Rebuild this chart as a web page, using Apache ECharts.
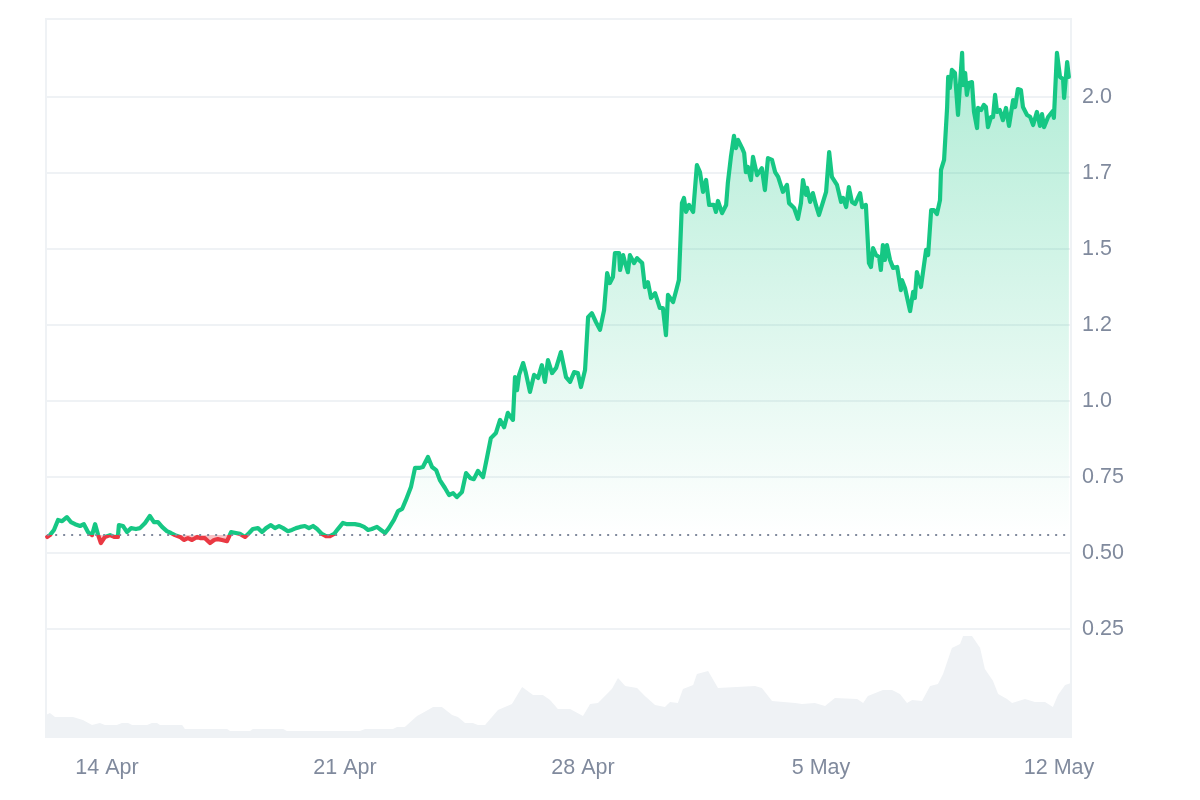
<!DOCTYPE html>
<html><head><meta charset="utf-8">
<style>html,body{margin:0;padding:0;background:#fff}#c{width:1200px;height:800px}</style>
<script src="https://cdn.jsdelivr.net/npm/echarts@6/dist/echarts.min.js"></script>
</head><body><div id="c"></div>
<script>
// Days counted from 14 Apr
const priceDays = [-1.76,-1.68,-1.56,-1.44,-1.32,-1.18,-1.06,-.94,-.79,-.68,-.56,-.44,-.35,-.26,-.18,-.06,.09,.21,.32,.35,.47,.59,.71,.85,.97,1.12,1.26,1.38,1.5,1.62,1.76,1.88,2.0,2.15,2.26,2.38,2.5,2.65,2.76,2.88,3.03,3.15,3.26,3.38,3.53,3.65,3.79,3.91,4.06,4.18,4.29,4.44,4.56,4.68,4.82,4.94,5.06,5.18,5.32,5.44,5.56,5.68,5.82,5.94,6.06,6.18,6.32,6.44,6.56,6.68,6.79,6.94,7.06,7.18,7.29,7.44,7.56,7.68,7.79,7.94,8.06,8.18,8.29,8.44,8.56,8.68,8.79,8.94,9.06,9.18,9.29,9.44,9.56,9.68,9.79,9.94,10.06,10.18,10.29,10.44,10.56,10.68,10.79,10.91,11.06,11.18,11.29,11.44,11.56,11.68,11.79,11.94,12.0,12.06,12.12,12.24,12.32,12.44,12.56,12.68,12.79,12.88,12.97,13.09,13.21,13.35,13.5,13.62,13.74,13.85,13.94,14.06,14.15,14.26,14.38,14.5,14.62,14.71,14.79,14.88,14.94,15.06,15.09,15.18,15.24,15.32,15.38,15.5,15.59,15.74,15.82,15.91,16.0,16.12,16.26,16.35,16.44,16.5,16.65,16.76,16.82,16.91,16.97,17.03,17.12,17.24,17.35,17.44,17.53,17.62,17.71,17.85,17.91,17.97,18.09,18.21,18.26,18.35,18.44,18.5,18.56,18.68,18.74,18.79,18.85,18.94,19.0,19.12,19.26,19.35,19.44,19.56,19.65,19.74,19.88,20.0,20.06,20.21,20.32,20.41,20.47,20.56,20.59,20.68,20.76,20.85,20.94,21.06,21.15,21.24,21.32,21.47,21.59,21.65,21.74,21.82,21.91,22.0,22.15,22.21,22.32,22.41,22.47,22.53,22.62,22.71,22.76,22.82,22.88,22.94,23.03,23.12,23.24,23.35,23.38,23.47,23.62,23.71,23.76,23.82,23.94,24.09,24.15,24.24,24.32,24.41,24.5,24.53,24.62,24.71,24.74,24.79,24.85,24.94,25.03,25.15,25.18,25.24,25.29,25.35,25.44,25.5,25.59,25.62,25.71,25.79,25.85,25.91,26.0,26.06,26.12,26.18,26.26,26.35,26.44,26.53,26.65,26.71,26.79,26.88,26.94,27.06,27.15,27.24,27.35,27.44,27.5,27.56,27.68,27.82,27.85,27.94,28.03,28.12,28.15,28.24,28.29];
const priceValues = [.553,.559,.576,.609,.605,.618,.602,.595,.589,.595,.569,.559,.595,.559,.533,.553,.559,.553,.553,.592,.589,.569,.582,.579,.582,.599,.622,.602,.602,.586,.572,.566,.559,.553,.543,.549,.543,.553,.549,.549,.533,.543,.546,.543,.539,.569,.566,.563,.553,.566,.579,.582,.569,.582,.592,.582,.589,.582,.572,.576,.582,.586,.589,.582,.589,.579,.563,.556,.556,.563,.579,.599,.595,.595,.595,.592,.586,.576,.579,.586,.576,.566,.582,.609,.638,.645,.674,.717,.780,.780,.783,.816,.783,.773,.740,.714,.691,.697,.684,.701,.763,.747,.743,.770,.750,.816,.878,.895,.938,.914,.961,.938,1.079,1.036,1.086,1.125,1.092,1.030,1.086,1.076,1.118,1.063,1.135,1.092,1.109,1.161,1.079,1.063,1.095,1.092,1.046,1.102,1.276,1.289,1.260,1.234,1.299,1.421,1.388,1.408,1.487,1.487,1.431,1.480,1.454,1.424,1.480,1.454,1.470,1.454,1.375,1.391,1.339,1.355,1.306,1.306,1.217,1.349,1.326,1.372,1.398,1.651,1.668,1.622,1.645,1.622,1.776,1.753,1.688,1.727,1.645,1.645,1.622,1.658,1.618,1.645,1.717,1.803,1.872,1.832,1.859,1.832,1.816,1.753,1.770,1.727,1.803,1.743,1.766,1.694,1.799,1.793,1.753,1.737,1.688,1.711,1.651,1.635,1.599,1.651,1.727,1.678,1.701,1.655,1.684,1.645,1.612,1.655,1.688,1.819,1.737,1.711,1.655,1.668,1.638,1.704,1.655,1.648,1.684,1.638,1.645,1.454,1.441,1.503,1.480,1.474,1.431,1.513,1.464,1.513,1.464,1.438,1.441,1.365,1.398,1.372,1.296,1.359,1.339,1.424,1.375,1.497,1.480,1.628,1.628,1.615,1.661,1.760,1.793,1.967,2.066,2.030,2.089,2.079,1.941,2.145,2.039,2.079,2.007,2.046,2.049,1.951,1.898,1.964,1.957,1.974,1.967,1.901,1.934,1.934,2.007,1.951,1.957,1.924,1.964,1.905,1.990,1.967,2.026,2.023,1.967,1.941,1.935,1.908,1.951,1.905,1.944,1.901,1.934,1.954,1.931,2.145,2.066,2.059,1.997,2.115,2.066];
const volumeDays = [-1.794,-1.68,-1.53,-1.0,-.71,-.44,-.21,-.06,.29,.44,.62,.74,1.18,1.32,1.47,1.56,2.21,2.29,3.53,3.62,4.21,4.29,5.18,5.29,7.44,7.59,8.41,8.53,8.76,9.12,9.44,9.59,9.85,10.15,10.32,10.53,10.76,10.91,11.12,11.5,11.91,12.21,12.53,12.82,13.03,13.26,13.62,14.0,14.21,14.44,14.85,15.03,15.24,15.59,15.82,16.12,16.41,16.56,16.79,16.94,17.24,17.35,17.68,17.97,19.06,19.26,19.56,20.24,20.44,20.82,21.12,21.41,22.06,22.24,22.38,22.82,23.09,23.32,23.53,23.68,23.97,24.21,24.44,24.59,24.85,25.09,25.18,25.44,25.68,25.82,26.06,26.21,26.47,26.62,27.0,27.29,27.59,27.82,27.97,28.18,28.353];
const volumeValues = [22,24,20,20,17,12,14,12,12,14,14,12,12,14,14,12,12,8,8,6,6,8,8,6,6,8,8,10,10,21,27,30,30,22,20,14,14,12,12,27,33,50,42,42,37,28,28,21,33,34,48,59,51,49,41,32,30,35,34,48,52,63,66,49,51,49,36,34,33,34,31,39,38,34,41,47,47,43,34,37,36,51,53,63,89,93,101,101,89,68,56,43,38,34,38,35,35,30,42,52,54];
const baseline = 0.559;
const xTickDays = [0,7,14,21,28];
const xTickLabels = ['14 Apr','21 Apr','28 Apr','5 May','12 May'];
const yTickValues = [0.25,0.5,0.75,1.0,1.25,1.5,1.75,2.0];
const yTickLabels = ['0.25','0.50','0.75','1.0','1.2','1.5','1.7','2.0'];

const chart = echarts.init(document.getElementById('c'), null, {renderer:'canvas'});
const green = '#16c784', red = '#ea3943', textColor = '#808a9d', gridColor = '#eff2f5';
const font = '"Liberation Sans", Arial, sans-serif';
chart.setOption({
  animation:false,
  backgroundColor:'#fff',
  grid:{left:46,right:129,top:19,bottom:63,show:true,borderColor:gridColor,borderWidth:2,backgroundColor:'transparent'},
  xAxis:{type:'value',min:-1.794,max:28.353,
    axisLine:{show:false},
    axisTick:{show:false,customValues:xTickDays},
    splitLine:{show:false},
    axisLabel:{customValues:xTickDays,color:textColor,fontSize:21.5,fontFamily:font,margin:20,hideOverlap:false,showMinLabel:true,showMaxLabel:true,
      formatter:v=>xTickLabels[xTickDays.indexOf(v)]}},
  yAxis:[
    {type:'value',position:'right',min:-0.105,max:2.2566,
     axisLine:{show:false},
     axisTick:{show:false,customValues:yTickValues},
     splitLine:{show:true,lineStyle:{color:gridColor,width:2}},
     axisLabel:{customValues:yTickValues,color:textColor,fontSize:21.5,fontFamily:font,margin:11,
       formatter:v=>yTickLabels[yTickValues.indexOf(v)]}},
    {type:'value',show:false,min:0,max:718,splitLine:{show:false}}
  ],
  visualMap:{show:false,type:'piecewise',seriesIndex:1,dimension:1,
    pieces:[{gte:-1,lt:baseline,color:red},{gte:baseline,lte:3,color:green}]},
  series:[
    {type:'line',yAxisIndex:1,symbol:'none',silent:true,z:1,
     data:volumeDays.map((d,i)=>[d,volumeValues[i]]),
     lineStyle:{width:0},itemStyle:{color:gridColor},
     areaStyle:{color:gridColor,opacity:1}},
    {type:'line',symbol:'none',z:3,
     data:priceDays.map((d,i)=>[d,priceValues[i]]),
     lineStyle:{width:4.2,join:'round',cap:'round'},
     areaStyle:{origin:baseline,opacity:1,color:new echarts.graphic.LinearGradient(0,19,0,547,[
       {offset:0,color:'rgba(22,199,132,0.36)'},
       {offset:0.977,color:'rgba(22,199,132,0.0)'},
       {offset:0.978,color:'rgba(234,57,67,0.3)'},
       {offset:1,color:'rgba(234,57,67,0.3)'}],true)},
     markLine:{silent:true,symbol:'none',label:{show:false},animation:false,
       data:[[{coord:[priceDays[0],baseline]},{coord:[priceDays[priceDays.length-1],baseline]}]],
       lineStyle:{color:'#808a9d',type:[2,6],width:2}}}
  ]
});
</script></body></html>
